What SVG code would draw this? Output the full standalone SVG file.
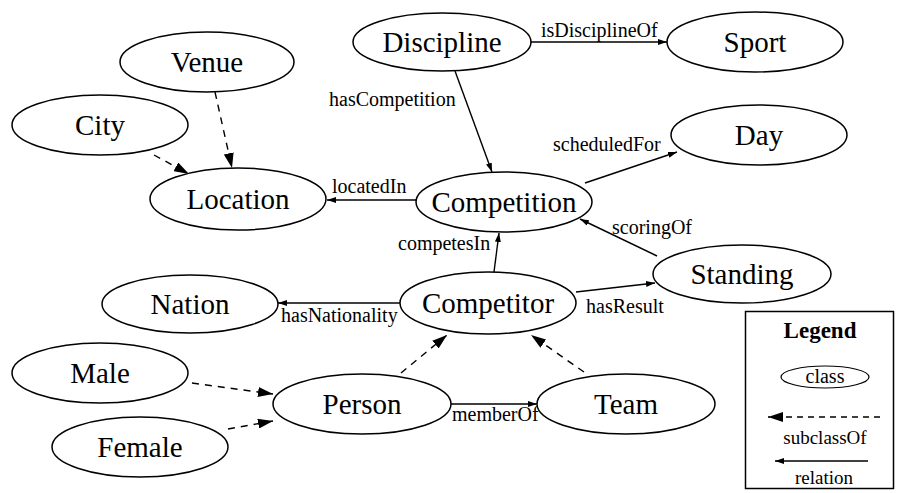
<svg xmlns="http://www.w3.org/2000/svg" width="898" height="493" viewBox="0 0 898 493">
<style>
.n ellipse{fill:#fff;stroke:#000;stroke-width:1.5}
.n text{font-family:'Liberation Serif','Times New Roman',Tinos,'DejaVu Serif',serif;font-size:29px;text-anchor:middle;fill:#000}
.rel{stroke:#000;stroke-width:1.4;fill:none;marker-end:url(#ra)}
.sub{stroke:#000;stroke-width:1.4;fill:none;stroke-dasharray:7,6;marker-end:url(#sa)}
.lbl{font-family:'Liberation Serif','Times New Roman',Tinos,'DejaVu Serif',serif;font-size:20px;fill:#000}
.lg{font-family:'Liberation Serif','Times New Roman',Tinos,'DejaVu Serif',serif;font-size:19px;fill:#000;text-anchor:middle}
</style>
<defs>
<marker id="ra" viewBox="0 0 9 6" refX="9" refY="3" markerWidth="9" markerHeight="6" markerUnits="userSpaceOnUse" orient="auto"><path d="M0,0 L9,3 L0,6 z" fill="#000"/></marker>
<marker id="sa" viewBox="0 0 15 10" refX="15" refY="5" markerWidth="15" markerHeight="10" markerUnits="userSpaceOnUse" orient="auto"><path d="M0,0 L15,5 L0,10 z" fill="#000"/></marker>
</defs>
<rect width="898" height="493" fill="#fff"/>
<g id="connectors">
<line class="rel" x1="531" y1="42" x2="667" y2="42"/>
<line class="rel" x1="455" y1="71" x2="492" y2="172"/>
<line class="rel" x1="585" y1="183" x2="677" y2="152"/>
<line class="rel" x1="416" y1="200" x2="327" y2="200"/>
<line class="rel" x1="657" y1="256" x2="580" y2="219"/>
<line class="rel" x1="494" y1="272" x2="499" y2="233"/>
<line class="rel" x1="400" y1="303" x2="278" y2="303"/>
<line class="rel" x1="576" y1="292" x2="655" y2="283"/>
<line class="rel" x1="450" y1="404" x2="537" y2="404"/>
<line class="sub" x1="215" y1="92" x2="232" y2="168"/>
<line class="sub" x1="154" y1="155" x2="189" y2="174"/>
<line class="sub" x1="192" y1="383" x2="273" y2="394"/>
<line class="sub" x1="228" y1="429" x2="273" y2="421"/>
<line class="sub" x1="401" y1="373" x2="447" y2="335"/>
<line class="sub" x1="584" y1="372" x2="531" y2="335"/>
<text class="lbl" x="541" y="37">isDisciplineOf</text>
<text class="lbl" x="329" y="106">hasCompetition</text>
<text class="lbl" x="553" y="151">scheduledFor</text>
<text class="lbl" x="332" y="193">locatedIn</text>
<text class="lbl" x="612" y="234">scoringOf</text>
<text class="lbl" x="398" y="250">competesIn</text>
<text class="lbl" x="281" y="322">hasNationality</text>
<text class="lbl" x="586" y="313">hasResult</text>
<text class="lbl" x="452" y="421">memberOf</text>
</g>
<g id="discipline" class="n"><ellipse cx="442" cy="42" rx="89" ry="29"/><text x="442" y="52">Discipline</text></g>
<g id="sport" class="n"><ellipse cx="755" cy="42" rx="88" ry="30"/><text x="755" y="52">Sport</text></g>
<g id="venue" class="n"><ellipse cx="207" cy="62" rx="87" ry="30"/><text x="207" y="72">Venue</text></g>
<g id="city" class="n"><ellipse cx="100" cy="125" rx="88" ry="30"/><text x="100" y="135">City</text></g>
<g id="day" class="n"><ellipse cx="759" cy="135" rx="88" ry="30"/><text x="759" y="145">Day</text></g>
<g id="location" class="n"><ellipse cx="238" cy="199" rx="88" ry="31"/><text x="238" y="209">Location</text></g>
<g id="competition" class="n"><ellipse cx="504" cy="202" rx="88" ry="30"/><text x="504" y="212">Competition</text></g>
<g id="standing" class="n"><ellipse cx="742" cy="274" rx="89" ry="29"/><text x="742" y="284">Standing</text></g>
<g id="nation" class="n"><ellipse cx="190" cy="304" rx="88" ry="29"/><text x="190" y="314">Nation</text></g>
<g id="competitor" class="n"><ellipse cx="488" cy="303" rx="88" ry="31"/><text x="488" y="313">Competitor</text></g>
<g id="male" class="n"><ellipse cx="100" cy="373" rx="88" ry="30"/><text x="100" y="383">Male</text></g>
<g id="female" class="n"><ellipse cx="140" cy="447" rx="88" ry="30"/><text x="140" y="457">Female</text></g>
<g id="person" class="n"><ellipse cx="362" cy="404" rx="89" ry="30"/><text x="362" y="414">Person</text></g>
<g id="team" class="n"><ellipse cx="626" cy="404" rx="89" ry="30"/><text x="626" y="414">Team</text></g>
<g id="legend">
<rect x="745.5" y="311.5" width="148" height="177" fill="#fff" stroke="#000" stroke-width="1.5"/>
<text class="lg" x="820" y="338" style="font-weight:bold;font-size:23px">Legend</text>
<ellipse cx="825" cy="377" rx="44" ry="11" fill="#fff" stroke="#000" stroke-width="1.2"/>
<text class="lg" x="825" y="383" style="font-size:20px">class</text>
<line class="sub" x1="880" y1="417" x2="768" y2="417" style="stroke-dasharray:6,5"/>
<text class="lg" x="825" y="444">subclassOf</text>
<line class="rel" x1="868" y1="461" x2="775" y2="461"/>
<text class="lg" x="824" y="484">relation</text>
</g>
</svg>
